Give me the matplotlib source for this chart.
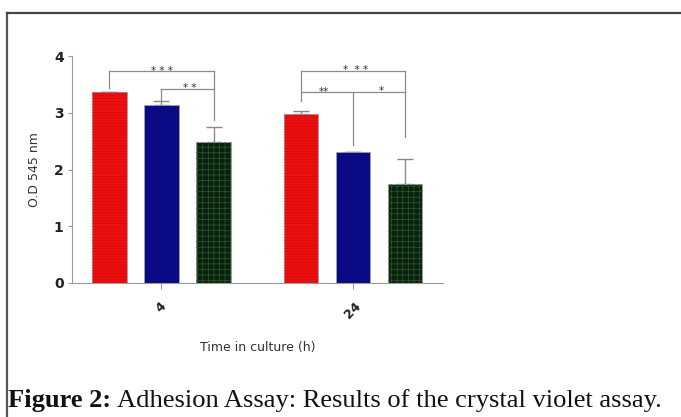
import matplotlib
matplotlib.use("Agg")
import matplotlib.pyplot as plt
import numpy as np
from matplotlib.lines import Line2D

# ---- data ----
time_labels = ["4", "24"]
red_vals = [3.36, 2.97]
red_err = [0.0, 0.06]
blue_vals = [3.13, 2.30]
blue_err = [0.07, 0.01]
green_vals = [2.48, 1.74]
green_err = [0.27, 0.45]
y_ticks = [0, 1, 2, 3, 4]

plt.rcParams["hatch.linewidth"] = 0.5

W, H = 681, 417
fig = plt.figure(figsize=(W / 100, H / 100), dpi=100)

# outer frame
fig.add_artist(Line2D([7 / W, 7 / W], [0, 1 - 13 / H], color="#555555", lw=1.6,
                      transform=fig.transFigure))
fig.add_artist(Line2D([7 / W, 1.0], [1 - 13 / H, 1 - 13 / H], color="#444444", lw=1.6,
                      transform=fig.transFigure))

ax_left, ax_right = 72 / W, 443 / W
ax_bottom, ax_top = 1 - 283 / H, 1 - 56 / H
ax = fig.add_axes([ax_left, ax_bottom, ax_right - ax_left, ax_top - ax_bottom])

centers = np.array([0.0, 3.68])
offs = [-1.0, 0.0, 1.0]
bw = 0.67
ax.set_xlim(-1.72, 5.41)
ax.set_ylim(0, 4)

series = [
    (red_vals, red_err, "#ee1010", "#d40a0a", "------"),
    (blue_vals, blue_err, "#0a0a85", None, None),
    (green_vals, green_err, "#0b200d", "#2a5a30", "+++"),
]
for (vals, errs, fc, hc, hatch), o in zip(series, offs):
    xs = centers + o
    ax.bar(xs, vals, width=bw, color=fc, edgecolor="#a0a0a0", linewidth=0.6, zorder=2)
    if hatch:
        ax.bar(xs, vals, width=bw, color="none", edgecolor=hc, hatch=hatch,
               linewidth=0, zorder=3)
    ax.errorbar(xs, vals, yerr=[np.zeros(len(vals)), errs], fmt="none",
                ecolor="#8a8a8a", elinewidth=1.0, capsize=6, capthick=1.0, zorder=1)

lc = "#8c8c8c"
def seg(x0, y0, x1, y1):
    ax.plot([x0, x1], [y0, y1], color=lc, lw=0.9, zorder=4, clip_on=False)

star_kw = dict(ha="center", va="center", fontsize=7.5, color="#333333", zorder=5)

# group 4h
c = centers[0]
seg(c - 1, 3.44, c - 1, 3.74); seg(c - 1, 3.74, c + 1, 3.74); seg(c + 1, 3.74, c + 1, 2.87)
ax.text(c + 0.0, 3.74, "* * *", **star_kw)
seg(c, 3.22, c, 3.42); seg(c, 3.42, c + 1, 3.42)
ax.text(c + 0.55, 3.44, "* *", **star_kw)

# group 24h
c = centers[1]
seg(c - 1, 3.20, c - 1, 3.74); seg(c - 1, 3.74, c + 1, 3.74); seg(c + 1, 3.74, c + 1, 2.58)
ax.text(c + 0.05, 3.76, "*  * *", **star_kw)
seg(c - 1, 3.36, c + 1, 3.36); seg(c, 3.36, c, 2.43)
ax.text(c - 0.55, 3.36, "**", **star_kw)
ax.text(c + 0.55, 3.38, "*", **star_kw)

for s in ["top", "right"]:
    ax.spines[s].set_visible(False)
for s in ["left", "bottom"]:
    ax.spines[s].set_color("#9a9a9a")
    ax.spines[s].set_linewidth(0.8)

ax.set_yticks(y_ticks)
ax.set_yticklabels([str(t) for t in y_ticks], fontsize=10, fontweight="bold",
                   color="#222222")
ax.tick_params(axis="y", length=3, color="#9a9a9a", pad=3)
ax.set_xticks(centers)
ax.set_xticklabels(time_labels, rotation=45, fontsize=9, fontweight="bold",
                   color="#222222", ha="center")
ax.tick_params(axis="x", length=4, color="#9a9a9a", pad=8)

fig.text(35 / W, 1 - 170 / H, "O.D 545 nm", rotation=90, ha="center", va="center",
         fontsize=9, color="#333333")
fig.text(258 / W, 1 - 347 / H, "Time in culture (h)", ha="center", va="center",
         fontsize=9, color="#333333")

# caption
t1 = fig.text(8 / W, 1 - 407 / H, "Figure 2:", ha="left", va="baseline",
              fontsize=14, fontweight="bold", family="Liberation Serif", color="#111111")
fig.canvas.draw()
r = fig.canvas.get_renderer()
bb = t1.get_window_extent(r)
t2 = fig.text((bb.x1 + 6) / W, 1 - 407 / H,
              "Adhesion Assay: Results of the crystal violet assay.",
              ha="left", va="baseline", fontsize=14, family="Liberation Serif",
              color="#111111")
fig.canvas.draw()
bb2 = t2.get_window_extent(r)
scale = (667 - 8) / (bb2.x1 - 8)
fs = 14 * scale
t1.set_fontsize(fs)
fig.canvas.draw()
bb = t1.get_window_extent(r)
t2.set_fontsize(fs)
t2.set_x((bb.x1 + 6) / W)

fig.savefig("out.png", dpi=100)
